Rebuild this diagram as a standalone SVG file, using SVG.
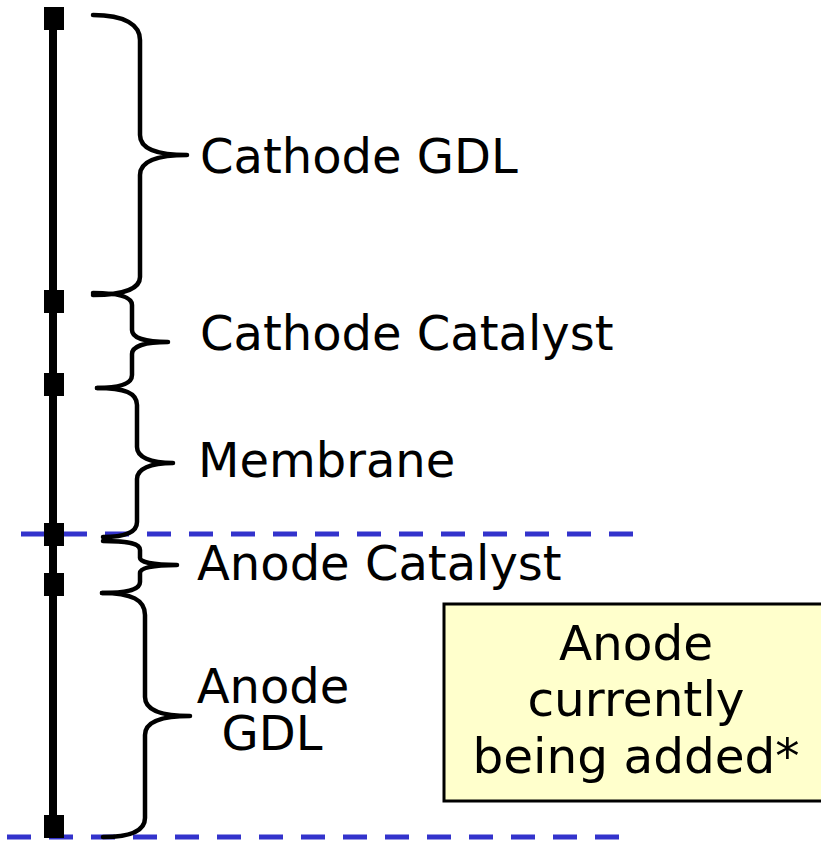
<svg xmlns="http://www.w3.org/2000/svg" width="821" height="842" viewBox="0 0 821 842">
<style>
.brace{fill:none;stroke:#000;stroke-width:4.5;stroke-linecap:round;stroke-linejoin:round}
.dash{stroke:#3333cc;stroke-width:5;stroke-dasharray:24 18;fill:none}
.lbl{font-family:"DejaVu Sans","Verdana",sans-serif;font-size:48px;fill:#000}
.big{font-size:48.5px}
.mid{text-anchor:middle}
</style>
<rect width="821" height="842" fill="#fff"/>
<g id="boundaries">
<line class="dash" x1="21" y1="534" x2="635" y2="534"/>
<line class="dash" x1="7" y1="837" x2="620" y2="837"/>
</g>
<g id="axis">
<line x1="53" y1="18" x2="53" y2="826" stroke="#000" stroke-width="8"/>
<rect x="44" y="7" width="20" height="23" fill="#000"/>
<rect x="44" y="290" width="20" height="23" fill="#000"/>
<rect x="44" y="373" width="20" height="23" fill="#000"/>
<rect x="44" y="523" width="20" height="23" fill="#000"/>
<rect x="44" y="573" width="20" height="23" fill="#000"/>
<rect x="44" y="815" width="20" height="23" fill="#000"/>
</g>
<g id="cathode-gdl">
<path class="brace" d="M93,15 C125,15 140,25 140,40 L140,135 C140,148 155,155 187,155 C155,155 140,162 140,175 L140,277 C140,288 125,295 93,295"/>
<text class="lbl" x="200" y="173">Cathode GDL</text>
</g>
<g id="cathode-catalyst">
<path class="brace" d="M93,293 C120,293 132,297 132,305 L132,330 C132,338 145,342 168,342 C145,342 132,346 132,354 L132,375 C132,384 120,388 97,388"/>
<text class="lbl" x="200" y="350">Cathode Catalyst</text>
</g>
<g id="membrane">
<path class="brace" d="M97,388 C125,388 137,393 137,405 L137,447 C137,457 150,463 173,463 C150,463 137,469 137,479 L137,522 C137,532 125,537 103,537"/>
<text class="lbl" x="198" y="477">Membrane</text>
</g>
<g id="anode-catalyst">
<path class="brace" d="M103,541 C130,541 140,544 140,550 L140,558 C140,562 152,565 177,565 C152,565 140,568 140,573 L140,582 C140,589 130,593 102,593"/>
<text class="lbl" x="197" y="580">Anode Catalyst</text>
</g>
<g id="anode-gdl">
<path class="brace" d="M102,593 C132,593 145,600 145,615 L145,697 C145,710 160,716 190,716 C160,716 145,722 145,735 L145,818 C145,830 132,837 103,837"/>
<text class="lbl mid" x="273" y="703">Anode</text>
<text class="lbl mid" x="272" y="750">GDL</text>
</g>
<g id="note">
<rect x="444" y="604" width="390" height="197" fill="#ffffcc" stroke="#000" stroke-width="3"/>
<text class="lbl big mid" x="636" y="660">Anode</text>
<text class="lbl big mid" x="636" y="716">currently</text>
<text class="lbl big mid" x="636" y="773">being added*</text>
</g>
</svg>
